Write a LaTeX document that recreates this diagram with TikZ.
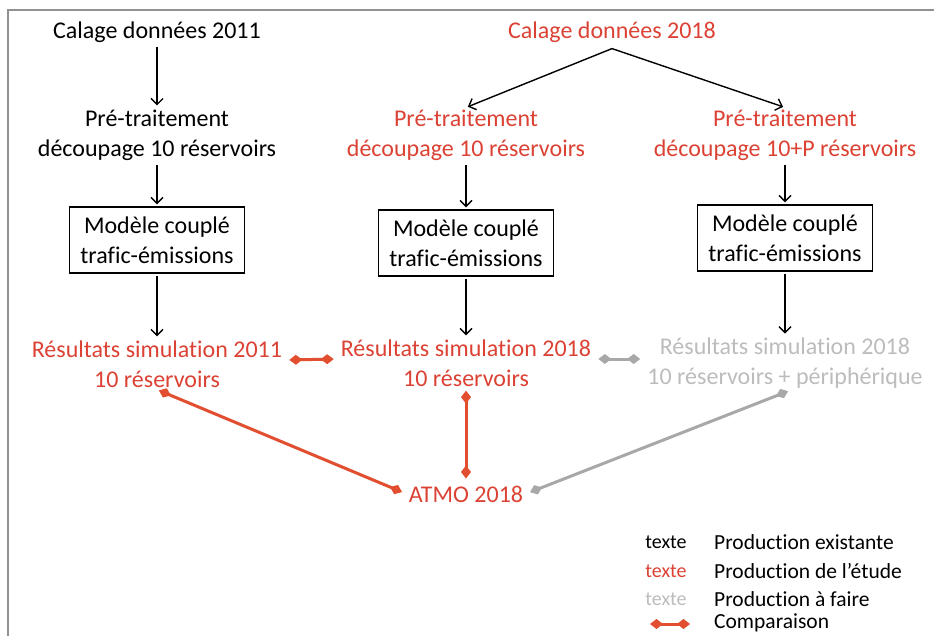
\documentclass[tikz,border=0pt]{standalone}
\usepackage{fontspec}
\setmainfont{Carlito}[Ligatures=NoCommon]
\usetikzlibrary{arrows.meta,calc}
\definecolor{redT}{RGB}{219,66,52}
\definecolor{redA}{RGB}{226,78,48}
\definecolor{grayT}{RGB}{188,188,188}
\definecolor{grayA}{RGB}{168,168,168}
\definecolor{frameC}{RGB}{145,145,145}
\begin{document}
\begin{tikzpicture}[x=1pt,y=-1pt,
  txt/.style={font=\fontsize{24}{30}\selectfont, align=center, inner sep=2pt},
  boxn/.style={txt, draw=black, line width=1.2pt, minimum width=175pt, minimum height=66pt, inner sep=4pt},
  legt/.style={font=\fontsize{20}{24}\selectfont, inner sep=1pt},
  legl/.style={font=\fontsize{21.5}{26}\selectfont, anchor=west, inner sep=1pt},
  arr/.style={line width=1.4pt, -{Straight Barb[length=6pt,width=12pt,line width=1.4pt]}, shorten >=2pt, shorten <=2pt},
  cmpR/.style={draw=redA, line width=3pt, {Diamond[length=13pt,width=10pt]}-{Diamond[length=13pt,width=10pt]}, shorten >=5pt, shorten <=5pt},
  cmpG/.style={cmpR, draw=grayA},
]
\useasboundingbox (0,0) rectangle (934,636);
\draw[frameC, line width=2pt] (8,636) -- (8,10) -- (934,10);

% column 1
\node[txt] (c11) at (157,32) {Calage données 2011};
\node[txt] (p11) at (157,135) {Pré-traitement\\découpage 10 réservoirs};
\node[boxn] (m11) at (157,240) {Modèle couplé\\trafic-émissions};
\node[txt, text=redT] (r11) at (157,364) {Résultats simulation 2011\\10 réservoirs};

% column 2
\node[txt, text=redT] (c18) at (612,32) {Calage données 2018};
\node[txt, text=redT] (p18a) at (466,135) {Pré-traitement\\découpage 10 réservoirs};
\node[boxn] (m18a) at (466,243) {Modèle couplé\\trafic-émissions};
\node[txt, text=redT] (r18a) at (466,363) {Résultats simulation 2018\\10 réservoirs};

% column 3
\node[txt, text=redT] (p18b) at (785,135) {Pré-traitement\\découpage 10+P réservoirs};
\node[boxn] (m18b) at (785,238) {Modèle couplé\\trafic-émissions};
\node[txt, text=grayT] (r18b) at (785,363) {Résultats simulation 2018\\10 réservoirs + périphérique};

\node[txt, text=redT] (atmo) at (466,494) {ATMO 2018};

% black arrows
\draw[arr] (c11) -- (p11);
\draw[arr] (p11) -- (m11);
\draw[arr] (m11) -- (r11);
\draw[arr, shorten <=0pt] ([yshift=-4pt]c18.south) -- (p18a.north);
\draw[arr, shorten <=0pt] ([yshift=-4pt]c18.south) -- (p18b.north);
\draw[arr] (p18a) -- (m18a);
\draw[arr] (m18a) -- (r18a);
\draw[arr] (p18b) -- (m18b);
\draw[arr] (m18b) -- (r18b);

% comparisons
\draw[cmpR] ([yshift=4pt]r11.east) -- ([yshift=4pt]r18a.west);
\draw[cmpG] ([yshift=4pt]r18a.east) -- ([yshift=4pt]r18b.west);
\draw[cmpR, shorten <=2pt] (r11.south) -- (atmo.west);
\draw[cmpR, shorten <=2pt] (r18a.south) -- (atmo.north);
\draw[cmpG, shorten <=2pt] ([xshift=5pt]r18b.south) -- (atmo.east);

% legend
\node[legt] (t1) at (666,542) {texte};
\node[legl] (l1) at (713,542) {Production existante};
\node[legt, text=redT] (t2) at (666,571) {texte};
\node[legl] (l2) at (713,571) {Production de l’étude};
\node[legt, text=grayT] (t3) at (666,599) {texte};
\node[legl] (l3) at (713,599) {Production à faire};
\coordinate (la) at (645,624);
\coordinate (lb) at (695,624);
\draw[cmpR] (la) -- (lb);
\node[legl] (l4) at (713,623) {Comparaison};
\end{tikzpicture}
\end{document}
